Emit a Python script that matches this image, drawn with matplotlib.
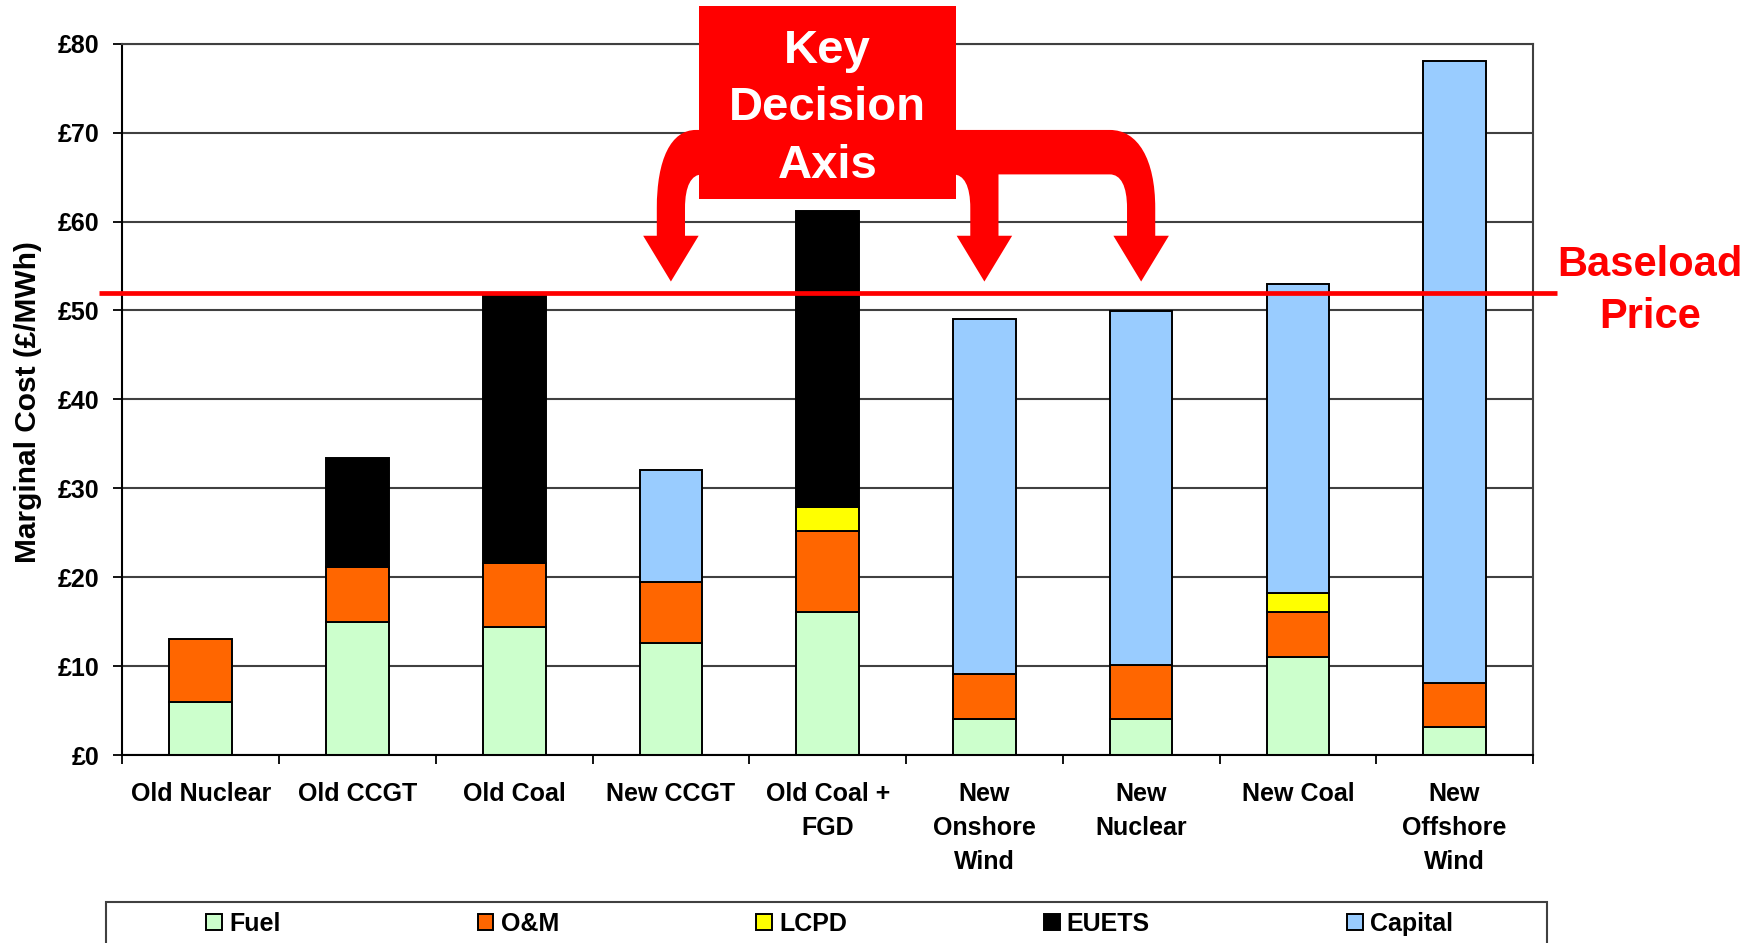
import numpy as np
import matplotlib
matplotlib.use("Agg")
import matplotlib.pyplot as plt
from matplotlib.patches import Rectangle, PathPatch
from matplotlib.path import Path
from matplotlib.ticker import FuncFormatter

plt.rcParams["font.family"] = ["Liberation Sans", "DejaVu Sans"]

# ---- data -------------------------------------------------------------
categories = ["Old Nuclear", "Old CCGT", "Old Coal", "New CCGT", "Old Coal +\nFGD",
              "New\nOnshore\nWind", "New\nNuclear", "New Coal", "New\nOffshore\nWind"]
fuel = [6.0, 15.0, 14.4, 12.6, 16.1, 4.0, 4.0, 11.0, 3.1]
om = [7.0, 6.2, 7.2, 6.9, 9.1, 5.1, 6.1, 5.1, 5.0]
lcpd = [0, 0, 0, 0, 2.7, 0, 0, 2.1, 0]
euets = [0, 12.2, 30.2, 0, 33.3, 0, 0, 0, 0]
capital = [0, 0, 0, 12.5, 0, 39.9, 39.8, 34.8, 69.9]
series_names = ["Fuel", "O&M", "LCPD", "EUETS", "Capital"]
series_colors = ["#CCFFCC", "#FF6600", "#FFFF00", "#000000", "#99CCFF"]
baseload_price = 52
y_ticks = [0, 10, 20, 30, 40, 50, 60, 70, 80]
# categories the decision arrows point at: New CCGT, New Onshore Wind, New Nuclear
decision_targets = [3, 5, 6]
decision_box_category = 4

RED = "#FF0000"

fig = plt.figure(figsize=(17.62, 9.43), dpi=100)
ax = fig.add_axes([0.06941, 0.19936, 0.80062, 0.7543])
ax.set_xlim(-0.5, len(categories) - 0.5)
ax.set_ylim(0, 80)

# ---- stacked bars -----------------------------------------------------
x = np.arange(len(categories))
bottom = np.zeros(len(categories))
handles = []
for name, vals, color in zip(series_names, [fuel, om, lcpd, euets, capital], series_colors):
    v = np.asarray(vals, dtype=float)
    m = v > 0
    bars = ax.bar(x[m], v[m], 0.4, bottom=bottom[m], color=color,
                  edgecolor="black", linewidth=1.4, label=name, zorder=2)
    handles.append(bars)
    bottom += v

# ---- axes styling -----------------------------------------------------
ax.set_axisbelow(True)
ax.yaxis.grid(True, color="#404040", linewidth=1.5)
for side in ["left", "bottom"]:
    ax.spines[side].set_color("black")
    ax.spines[side].set_linewidth(1.5)
for side in ["top", "right"]:
    ax.spines[side].set_color("#404040")
    ax.spines[side].set_linewidth(1.5)

ax.set_yticks(y_ticks)
ax.yaxis.set_major_formatter(FuncFormatter(lambda v, p: f"£{v:.0f}"))
ax.tick_params(axis="y", length=6.2, width=1.3, pad=10, labelsize=18)

ax.set_xticks(x)
ax.set_xticklabels(categories)
ax.tick_params(axis="x", which="major", length=0, pad=19.5, labelsize=18)
ax.set_xticks(np.arange(-0.5, len(categories), 1), minor=True)
ax.tick_params(axis="x", which="minor", length=6.5, width=1.3)
for t in ax.get_xticklabels() + ax.get_yticklabels():
    t.set_fontweight("bold")
for t in ax.get_xticklabels():
    t.set_linespacing(1.52)

fig.text(28 / 1762, 1 - 402 / 943, "Marginal Cost (£/MWh)", rotation=90,
         ha="center", va="center", fontsize=21.5, fontweight="bold")

# ---- baseload price line ----------------------------------------------
ax.plot([-0.647, 8.65], [baseload_price, baseload_price], color=RED, lw=3.4,
        solid_capstyle="butt", clip_on=False, zorder=4)
ax.text(9.246, baseload_price + 1.82, "Baseload", color=RED, fontsize=30,
        fontweight="bold", ha="center", va="baseline", clip_on=False)
ax.text(9.246, baseload_price - 3.99, "Price", color=RED, fontsize=30,
        fontweight="bold", ha="center", va="baseline", clip_on=False)

# ---- key decision box and arrows --------------------------------------
hw, hh = 0.09, 0.177                     # stem / head half widths
band_top, band_bot = 70.3, 65.3
neck, head_base, tip = 61.5, 58.4, 53.25
box_cx, box_hw = decision_box_category, 0.82
box_bottom, box_top = 62.5, 84.2
a, b, c = decision_targets
lx, rx = box_cx - box_hw, box_cx + box_hw

M, L, C4, CL = Path.MOVETO, Path.LINETO, Path.CURVE4, Path.CLOSEPOLY

left_verts = [
    (lx + 0.1, band_top), (lx - 0.02, band_top),
    (a - hw + 0.09, band_top), (a - hw, 67.0), (a - hw, neck),
    (a - hw, head_base), (a - hh, head_base), (a, tip), (a + hh, head_base),
    (a + hw, head_base), (a + hw, neck),
    (a + hw, 64.0), (a + hw + 0.04, band_bot), (lx + 0.02, band_bot),
    (lx + 0.1, band_bot), (lx + 0.1, band_top),
]
left_codes = [M, L, C4, C4, C4, L, L, L, L, L, L, C4, C4, C4, L, CL]

right_verts = [
    (rx - 0.1, band_top), (c + hw - 0.29, band_top),
    (c + hw - 0.11, band_top), (c + hw, 67.0), (c + hw, neck),
    (c + hw, head_base), (c + hh, head_base), (c, tip), (c - hh, head_base),
    (c - hw, head_base), (c - hw, neck),
    (c - hw, 64.0), (c - hw - 0.04, band_bot), (c - hw - 0.11, band_bot),
    (b + hw, band_bot), (b + hw, head_base), (b + hh, head_base), (b, tip),
    (b - hh, head_base), (b - hw, head_base), (b - hw, neck),
    (b - hw, 64.0), (b - hw - 0.04, band_bot), (rx - 0.02, band_bot),
    (rx - 0.1, band_bot), (rx - 0.1, band_top),
]
right_codes = [M, L, C4, C4, C4, L, L, L, L, L, L, C4, C4, C4,
               L, L, L, L, L, L, L, C4, C4, C4, L, CL]

for verts, codes in [(left_verts, left_codes), (right_verts, right_codes)]:
    ax.add_patch(PathPatch(Path(verts, codes), facecolor=RED, edgecolor="none",
                           clip_on=False, zorder=5))

ax.add_patch(Rectangle((lx, box_bottom), 2 * box_hw, box_top - box_bottom,
                       facecolor=RED, edgecolor="none", clip_on=False, zorder=6))
for word, yb in [("Key", 77.83), ("Decision", 71.37), ("Axis", 64.89)]:
    ax.text(box_cx, yb, word, color="white", fontsize=34, fontweight="bold",
            ha="center", va="baseline", clip_on=False, zorder=7)

# ---- legend -----------------------------------------------------------
fig.add_artist(Rectangle((106.3 / 1762, -0.05), (1547 - 106.3) / 1762, 0.05 + 1 - 902.3 / 943,
                         transform=fig.transFigure, facecolor="none",
                         edgecolor="#404040", linewidth=1.5))
fig.legend(handles, series_names, loc="center", bbox_to_anchor=(829.6 / 1762, 1 - 924 / 943),
           ncol=5, frameon=False, prop={"size": 18, "weight": "bold"},
           handlelength=0.63, handleheight=0.63, handletextpad=0.29,
           columnspacing=7.88, borderaxespad=0, borderpad=0)

fig.savefig("out.png", dpi=100)
